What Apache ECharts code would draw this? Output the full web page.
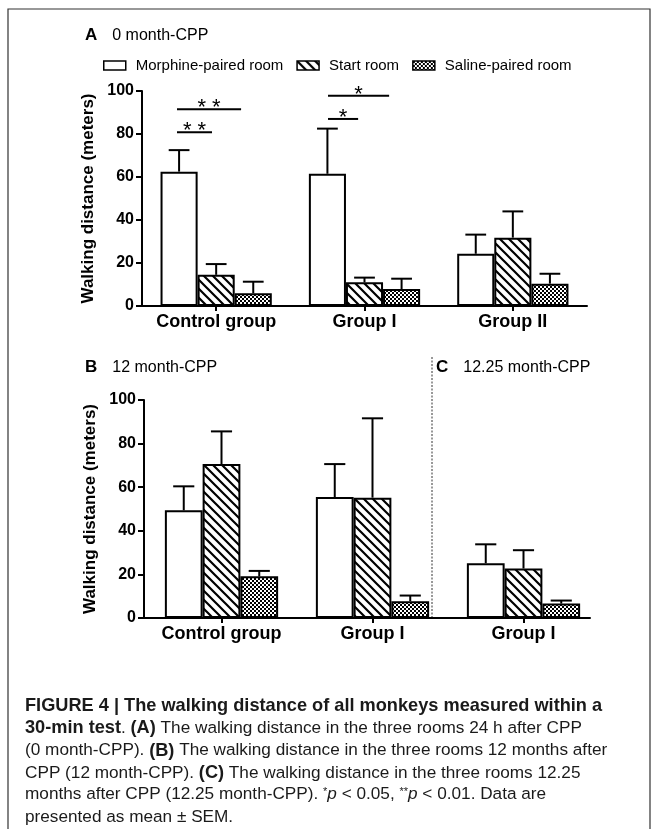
<!DOCTYPE html>
<html><head><meta charset="utf-8">
<script src="https://cdn.jsdelivr.net/npm/echarts@6/dist/echarts.min.js"></script>
<style>html,body{margin:0;padding:0;background:#fff}#chart{width:658px;height:829px}</style>
</head><body><div id="chart"></div>
<script>
// Rooms (series) shown in every panel
const roomNames = ['Morphine-paired room', 'Start room', 'Saline-paired room'];

// Panel A: 0 month-CPP (mean and SEM, meters)
const groupsA = ['Control group', 'Group I', 'Group II'];
const morphineA = [62.5, 61.5, 24.3];
const morphineSemA = [10.0, 21.0, 8.9];
const startA = [14.5, 11.0, 31.8];
const startSemA = [5.0, 2.2, 12.2];
const salineA = [5.9, 7.9, 10.4];
const salineSemA = [5.4, 4.8, 4.6];

// Panel B: 12 month-CPP
const groupsB = ['Control group', 'Group I'];
const morphineB = [49.4, 55.5];
const morphineSemB = [11.0, 15.1];
const startB = [70.6, 55.2];
const startSemB = [15.0, 36.4];
const salineB = [19.1, 7.7];
const salineSemB = [2.5, 2.6];

// Panel C: 12.25 month-CPP
const groupsC = ['Group I'];
const morphineC = [25.1];
const morphineSemC = [8.7];
const startC = [22.7];
const startSemC = [8.4];
const salineC = [6.6];
const salineSemC = [1.4];

const yTicks = [0, 20, 40, 60, 80, 100];

// Significance brackets in panel A: [group index, start offset, end offset (in category widths), height, stars]
const sigA = [
  [0, -0.264, -0.028, 80.8, '* *'],
  [0, -0.264, 0.168, 91.5, '* *'],
  [1, -0.246, -0.043, 87.0, '*'],
  [1, -0.246, 0.166, 97.8, '*']
];

const captionLines = [
  '{b|FIGURE 4 | The walking distance of all monkeys measured within a}',
  '{b|30-min test}. {b|(A)} The walking distance in the three rooms 24 h after CPP',
  '(0 month-CPP). {b|(B)} The walking distance in the three rooms 12 months after',
  'CPP (12 month-CPP). {b|(C)} The walking distance in the three rooms 12.25',
  'months after CPP (12.25 month-CPP). {s|*}{i|p} < 0.05, {s|**}{i|p} < 0.01. Data are',
  'presented as mean \u00b1 SEM.'
];

const FONT = 'Liberation Sans, Arial, sans-serif';
const CAPFONT = 'Liberation Sans, Arial, sans-serif';

// Fill patterns
function stripeTile() {
  const c = document.createElement('canvas');
  c.width = c.height = 9;
  const g = c.getContext('2d');
  g.fillStyle = '#fff'; g.fillRect(0, 0, 9, 9);
  g.strokeStyle = '#000'; g.lineWidth = 2.2;
  g.beginPath();
  g.moveTo(-2, -2); g.lineTo(11, 11);
  g.moveTo(-2, 7); g.lineTo(2, 11);
  g.moveTo(7, -2); g.lineTo(11, 2);
  g.stroke();
  return c;
}
function checkerTile() {
  const c = document.createElement('canvas');
  c.width = c.height = 4;
  const g = c.getContext('2d');
  g.fillStyle = '#fff'; g.fillRect(0, 0, 4, 4);
  g.fillStyle = '#000';
  g.fillRect(0, 0, 2, 2); g.fillRect(2, 2, 2, 2);
  return c;
}
const fills = ['#ffffff',
  { image: stripeTile(), repeat: 'repeat' },
  { image: checkerTile(), repeat: 'repeat' }];

function barSeries(k, data, xi, yi) {
  return {
    type: 'bar', name: roomNames[k], data: data,
    xAxisIndex: xi, yAxisIndex: yi,
    barGap: '0%', barCategoryGap: '25%',
    itemStyle: { color: fills[k], borderColor: '#000', borderWidth: 2 },
    emphasis: { disabled: true }, z: 2
  };
}

// Upper SEM whiskers, placed on the k-th bar of each group
function errorSeries(k, means, sems, xi, yi) {
  return {
    type: 'custom', xAxisIndex: xi, yAxisIndex: yi, z: 3, silent: true,
    data: means.map((m, i) => [i, m, sems[i]]),
    encode: { x: 0, y: 1 },
    renderItem: function (params, api) {
      const i = api.value(0), m = api.value(1), e = api.value(2);
      const band = api.size([1, 0])[0];
      const bw = band * 0.75 / 3;
      const base = api.coord([i, m]);
      const top = api.coord([i, m + e]);
      const x = base[0] + (k - 1) * bw;
      const cap = bw * 0.28;
      const st = { stroke: '#000', lineWidth: 2 };
      return { type: 'group', children: [
        { type: 'line', shape: { x1: x, y1: base[1], x2: x, y2: top[1] }, style: st },
        { type: 'line', shape: { x1: x - cap, y1: top[1], x2: x + cap, y2: top[1] }, style: st }
      ] };
    }
  };
}

function sigSeries(list, xi, yi) {
  return {
    type: 'custom', xAxisIndex: xi, yAxisIndex: yi, z: 3, silent: true,
    data: list,
    encode: { x: 0, y: 3 },
    renderItem: function (params, api) {
      const g = api.value(0), a = api.value(1), b = api.value(2), h = api.value(3);
      const band = api.size([1, 0])[0];
      const c = api.coord([g, h]);
      const x1 = c[0] + a * band, x2 = c[0] + b * band;
      return { type: 'group', children: [
        { type: 'line', shape: { x1: x1, y1: c[1], x2: x2, y2: c[1] }, style: { stroke: '#000', lineWidth: 2 } },
        { type: 'text', x: (x1 + x2) / 2, y: c[1] - 1,
          style: { text: list[params.dataIndex][4], font: '22px ' + FONT, fill: '#000', align: 'center', verticalAlign: 'middle' } }
      ] };
    }
  };
}

function yAxisStyle(gridIndex, showName) {
  return {
    type: 'value', gridIndex: gridIndex, min: yTicks[0], max: yTicks[yTicks.length - 1],
    interval: yTicks[1] - yTicks[0],
    name: showName ? 'Walking distance (meters)' : '', nameLocation: 'middle', nameGap: 39,
    nameTextStyle: { fontFamily: FONT, fontWeight: 'bold', fontSize: 17, color: '#000' },
    axisLine: { show: true, lineStyle: { color: '#000', width: 2 } },
    axisTick: { show: true, length: 6, lineStyle: { color: '#000', width: 2 } },
    axisLabel: { fontFamily: FONT, fontWeight: 'bold', fontSize: 16, color: '#000', margin: 8 },
    splitLine: { show: false }
  };
}

function catAxis(gridIndex, data, showLine) {
  return {
    type: 'category', gridIndex: gridIndex, data: data,
    axisLine: { show: showLine, lineStyle: { color: '#000', width: 2 } },
    axisTick: { show: true, alignWithLabel: true, length: 5, lineStyle: { color: '#000', width: 2 } },
    axisLabel: { fontFamily: FONT, fontWeight: 'bold', fontSize: 18, color: '#000', margin: 7, interval: 0 }
  };
}

const groupsBC = groupsB.concat(groupsC);
const morphineBC = morphineB.concat(morphineC);
const morphineSemBC = morphineSemB.concat(morphineSemC);
const startBC = startB.concat(startC);
const startSemBC = startSemB.concat(startSemC);
const salineBC = salineB.concat(salineC);
const salineSemBC = salineSemB.concat(salineSemC);

const capStyle = {
  fontFamily: CAPFONT, fontSize: 17.2, color: '#1a1a1a', fontWeight: 'normal',
  rich: {
    b: { fontFamily: CAPFONT, fontSize: 18.2, fontWeight: 'bold', color: '#1a1a1a' },
    i: { fontFamily: CAPFONT, fontSize: 17.2, fontStyle: 'italic', color: '#1a1a1a' },
    s: { fontFamily: CAPFONT, fontSize: 11, color: '#1a1a1a', verticalAlign: 'top', padding: [0, 0, 6, 0] }
  }
};

const panelTitleStyle = {
  fontWeight: 'normal',
  rich: {
    p: { fontFamily: FONT, fontWeight: 'bold', fontSize: 17, color: '#000', padding: [0, 15, 0, 0] },
    t: { fontFamily: FONT, fontWeight: 'normal', fontSize: 16, color: '#000' }
  }
};

const titles = [
  { text: '{p|A}{t|0 month-CPP}', left: 85, top: 27, padding: 0, textStyle: panelTitleStyle },
  { text: '{p|B}{t|12 month-CPP}', left: 85, top: 359, padding: 0, textStyle: panelTitleStyle },
  { text: '{p|C}{t|12.25 month-CPP}', left: 436, top: 359, padding: 0, textStyle: panelTitleStyle }
].concat(captionLines.map((t, i) => ({
  text: t, left: 25, top: 697 + i * 22.3, padding: 0, textStyle: capStyle
})));

const chart = echarts.init(document.getElementById('chart'), null, { renderer: 'canvas' });
chart.setOption({
  animation: false,
  backgroundColor: '#fff',
  title: titles,
  legend: {
    data: roomNames, left: 103, top: 58, padding: 0, icon: 'rect',
    itemWidth: 22, itemHeight: 9, itemGap: 13,
    itemStyle: { borderColor: '#000', borderWidth: 1.5 },
    textStyle: { fontFamily: FONT, fontSize: 15, color: '#000', padding: [0, 0, 0, 5] },
    selectedMode: false
  },
  grid: [
    { left: 142, top: 91, width: 445, height: 215 },
    { left: 146, top: 400, width: 453, height: 218 },
    { left: 144, top: 400, width: 446, height: 218 }
  ],
  xAxis: [
    catAxis(0, groupsA, true),
    catAxis(1, groupsBC, false),
    { type: 'value', gridIndex: 2, min: 0, max: 1, axisLine: { show: true, lineStyle: { color: '#000', width: 2 } },
      axisTick: { show: false }, axisLabel: { show: false }, splitLine: { show: false } }
  ],
  yAxis: [
    yAxisStyle(0, true),
    { type: 'value', gridIndex: 1, min: 0, max: 100, show: false },
    yAxisStyle(2, true)
  ],
  graphic: [
    { type: 'polyline', shape: { points: [[8, 835], [8, 9], [650, 9], [650, 835]] },
      style: { stroke: '#333', lineWidth: 1.2, fill: null }, silent: true },
    { type: 'line', shape: { x1: 432, y1: 357, x2: 432, y2: 617 },
      style: { stroke: '#333', lineWidth: 1, lineDash: [2, 1.5] }, silent: true }
  ],
  series: [
    barSeries(0, morphineA, 0, 0),
    barSeries(1, startA, 0, 0),
    barSeries(2, salineA, 0, 0),
    errorSeries(0, morphineA, morphineSemA, 0, 0),
    errorSeries(1, startA, startSemA, 0, 0),
    errorSeries(2, salineA, salineSemA, 0, 0),
    sigSeries(sigA, 0, 0),
    barSeries(0, morphineBC, 1, 1),
    barSeries(1, startBC, 1, 1),
    barSeries(2, salineBC, 1, 1),
    errorSeries(0, morphineBC, morphineSemBC, 1, 1),
    errorSeries(1, startBC, startSemBC, 1, 1),
    errorSeries(2, salineBC, salineSemBC, 1, 1)
  ]
});
</script></body></html>
